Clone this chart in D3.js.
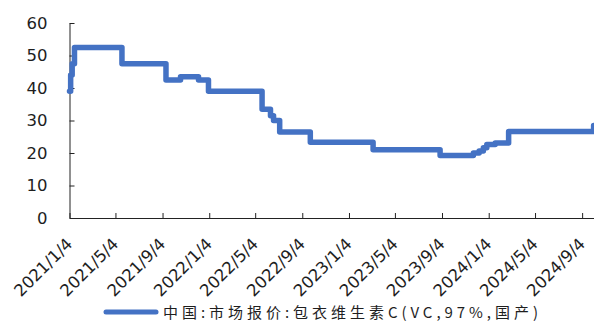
<!DOCTYPE html>
<html>
<head>
<meta charset="utf-8">
<script src="https://cdn.jsdelivr.net/npm/d3@7"></script>
<style>
  html, body { margin: 0; padding: 0; background: #fff; }
  svg { display: block; }
</style>
</head>
<body>
<svg id="chart" width="594" height="322"></svg>
<script>
// Price quotes, coated vitamin C (VC, 97%, domestic), yuan/kg
const quoteDates = [
  "2021-01-04", "2021-01-07", "2021-01-11", "2021-01-17", "2021-05-21",
  "2021-09-13", "2021-10-21", "2021-12-07", "2022-01-02", "2022-05-22",
  "2022-06-13", "2022-06-21", "2022-07-07", "2022-09-25", "2023-03-08",
  "2023-08-30", "2023-11-25", "2023-12-10", "2023-12-21", "2023-12-30",
  "2024-01-21", "2024-02-25", "2024-10-03", "2024-10-04"
];
const quoteValues = [
  39, 44, 47.5, 52.5, 47.5,
  42.5, 43.5, 42.5, 39, 33.5,
  31.5, 30, 26.5, 23.3, 21,
  19.2, 20, 20.6, 21.6, 22.6,
  23.1, 26.6, 26.6, 28.5
];
const yTickValues = [0, 10, 20, 30, 40, 50, 60];
const xTickDates = [
  "2021-01-04", "2021-05-04", "2021-09-04", "2022-01-04", "2022-05-04", "2022-09-04",
  "2023-01-04", "2023-05-04", "2023-09-04", "2024-01-04", "2024-05-04", "2024-09-04"
];
const xTickLabels = [
  "2021/1/4", "2021/5/4", "2021/9/4", "2022/1/4", "2022/5/4", "2022/9/4",
  "2023/1/4", "2023/5/4", "2023/9/4", "2024/1/4", "2024/5/4", "2024/9/4"
];
const seriesName = "中国:市场报价:包衣维生素C(VC,97%,国产)";

const parse = d3.utcParse("%Y-%m-%d");
const points = quoteDates.map((d, i) => ({ date: parse(d), value: quoteValues[i] }));

const svg = d3.select("#chart");
const axisFont = "'DejaVu Sans', sans-serif";
const textColor = "#1e1e1e";

const x = d3.scaleUtc()
  .domain([parse("2021-01-04"), parse("2024-10-05")])
  .range([69.5, 594]);
const y = d3.scaleLinear()
  .domain([0, 60])
  .range([218, 23]);

// y axis with inward ticks
const yAxis = svg.append("g")
  .attr("transform", `translate(${x.range()[0]},0)`)
  .call(d3.axisLeft(y).tickValues(yTickValues).tickSize(-5).tickSizeOuter(0).tickPadding(22));
yAxis.select(".domain").attr("stroke", "#222");
yAxis.selectAll(".tick line").attr("stroke", "#222");
yAxis.selectAll("text")
  .attr("font-family", axisFont)
  .attr("font-size", 16.5)
  .attr("fill", textColor);

// x axis with inward ticks and slanted date labels
const xAxis = svg.append("g")
  .attr("transform", `translate(0,${y(0)})`)
  .call(d3.axisBottom(x)
    .tickValues(xTickDates.map(parse))
    .tickFormat((d, i) => xTickLabels[i])
    .tickSize(-5)
    .tickSizeOuter(0));
xAxis.select(".domain").attr("stroke", "#222");
xAxis.selectAll(".tick line").attr("stroke", "#222");
xAxis.selectAll("text")
  .attr("x", 0)
  .attr("y", 0)
  .attr("dy", null)
  .attr("text-anchor", "end")
  .attr("transform", "translate(3.5,27) rotate(-45)")
  .attr("font-family", axisFont)
  .attr("font-size", 16.5)
  .attr("fill", textColor);

// price line
const line = d3.line()
  .x(d => x(d.date))
  .y(d => y(d.value))
  .curve(d3.curveStepAfter);

svg.append("path")
  .datum(points)
  .attr("fill", "none")
  .attr("stroke", "#4472C4")
  .attr("stroke-width", 5.5)
  .attr("stroke-linejoin", "round")
  .attr("stroke-linecap", "round")
  .attr("d", line);

// legend
const legend = svg.append("g");
legend.append("line")
  .attr("x1", 106).attr("x2", 156)
  .attr("y1", 312).attr("y2", 312)
  .attr("stroke", "#4472C4")
  .attr("stroke-width", 5)
  .attr("stroke-linecap", "round");
legend.append("text")
  .attr("x", 163)
  .attr("y", 317.5)
  .attr("font-family", "'Noto Sans CJK SC', sans-serif")
  .attr("font-size", 15)
  .attr("fill", textColor)
  .attr("textLength", 375)
  .attr("lengthAdjust", "spacing")
  .text(seriesName);
</script>
</body>
</html>
